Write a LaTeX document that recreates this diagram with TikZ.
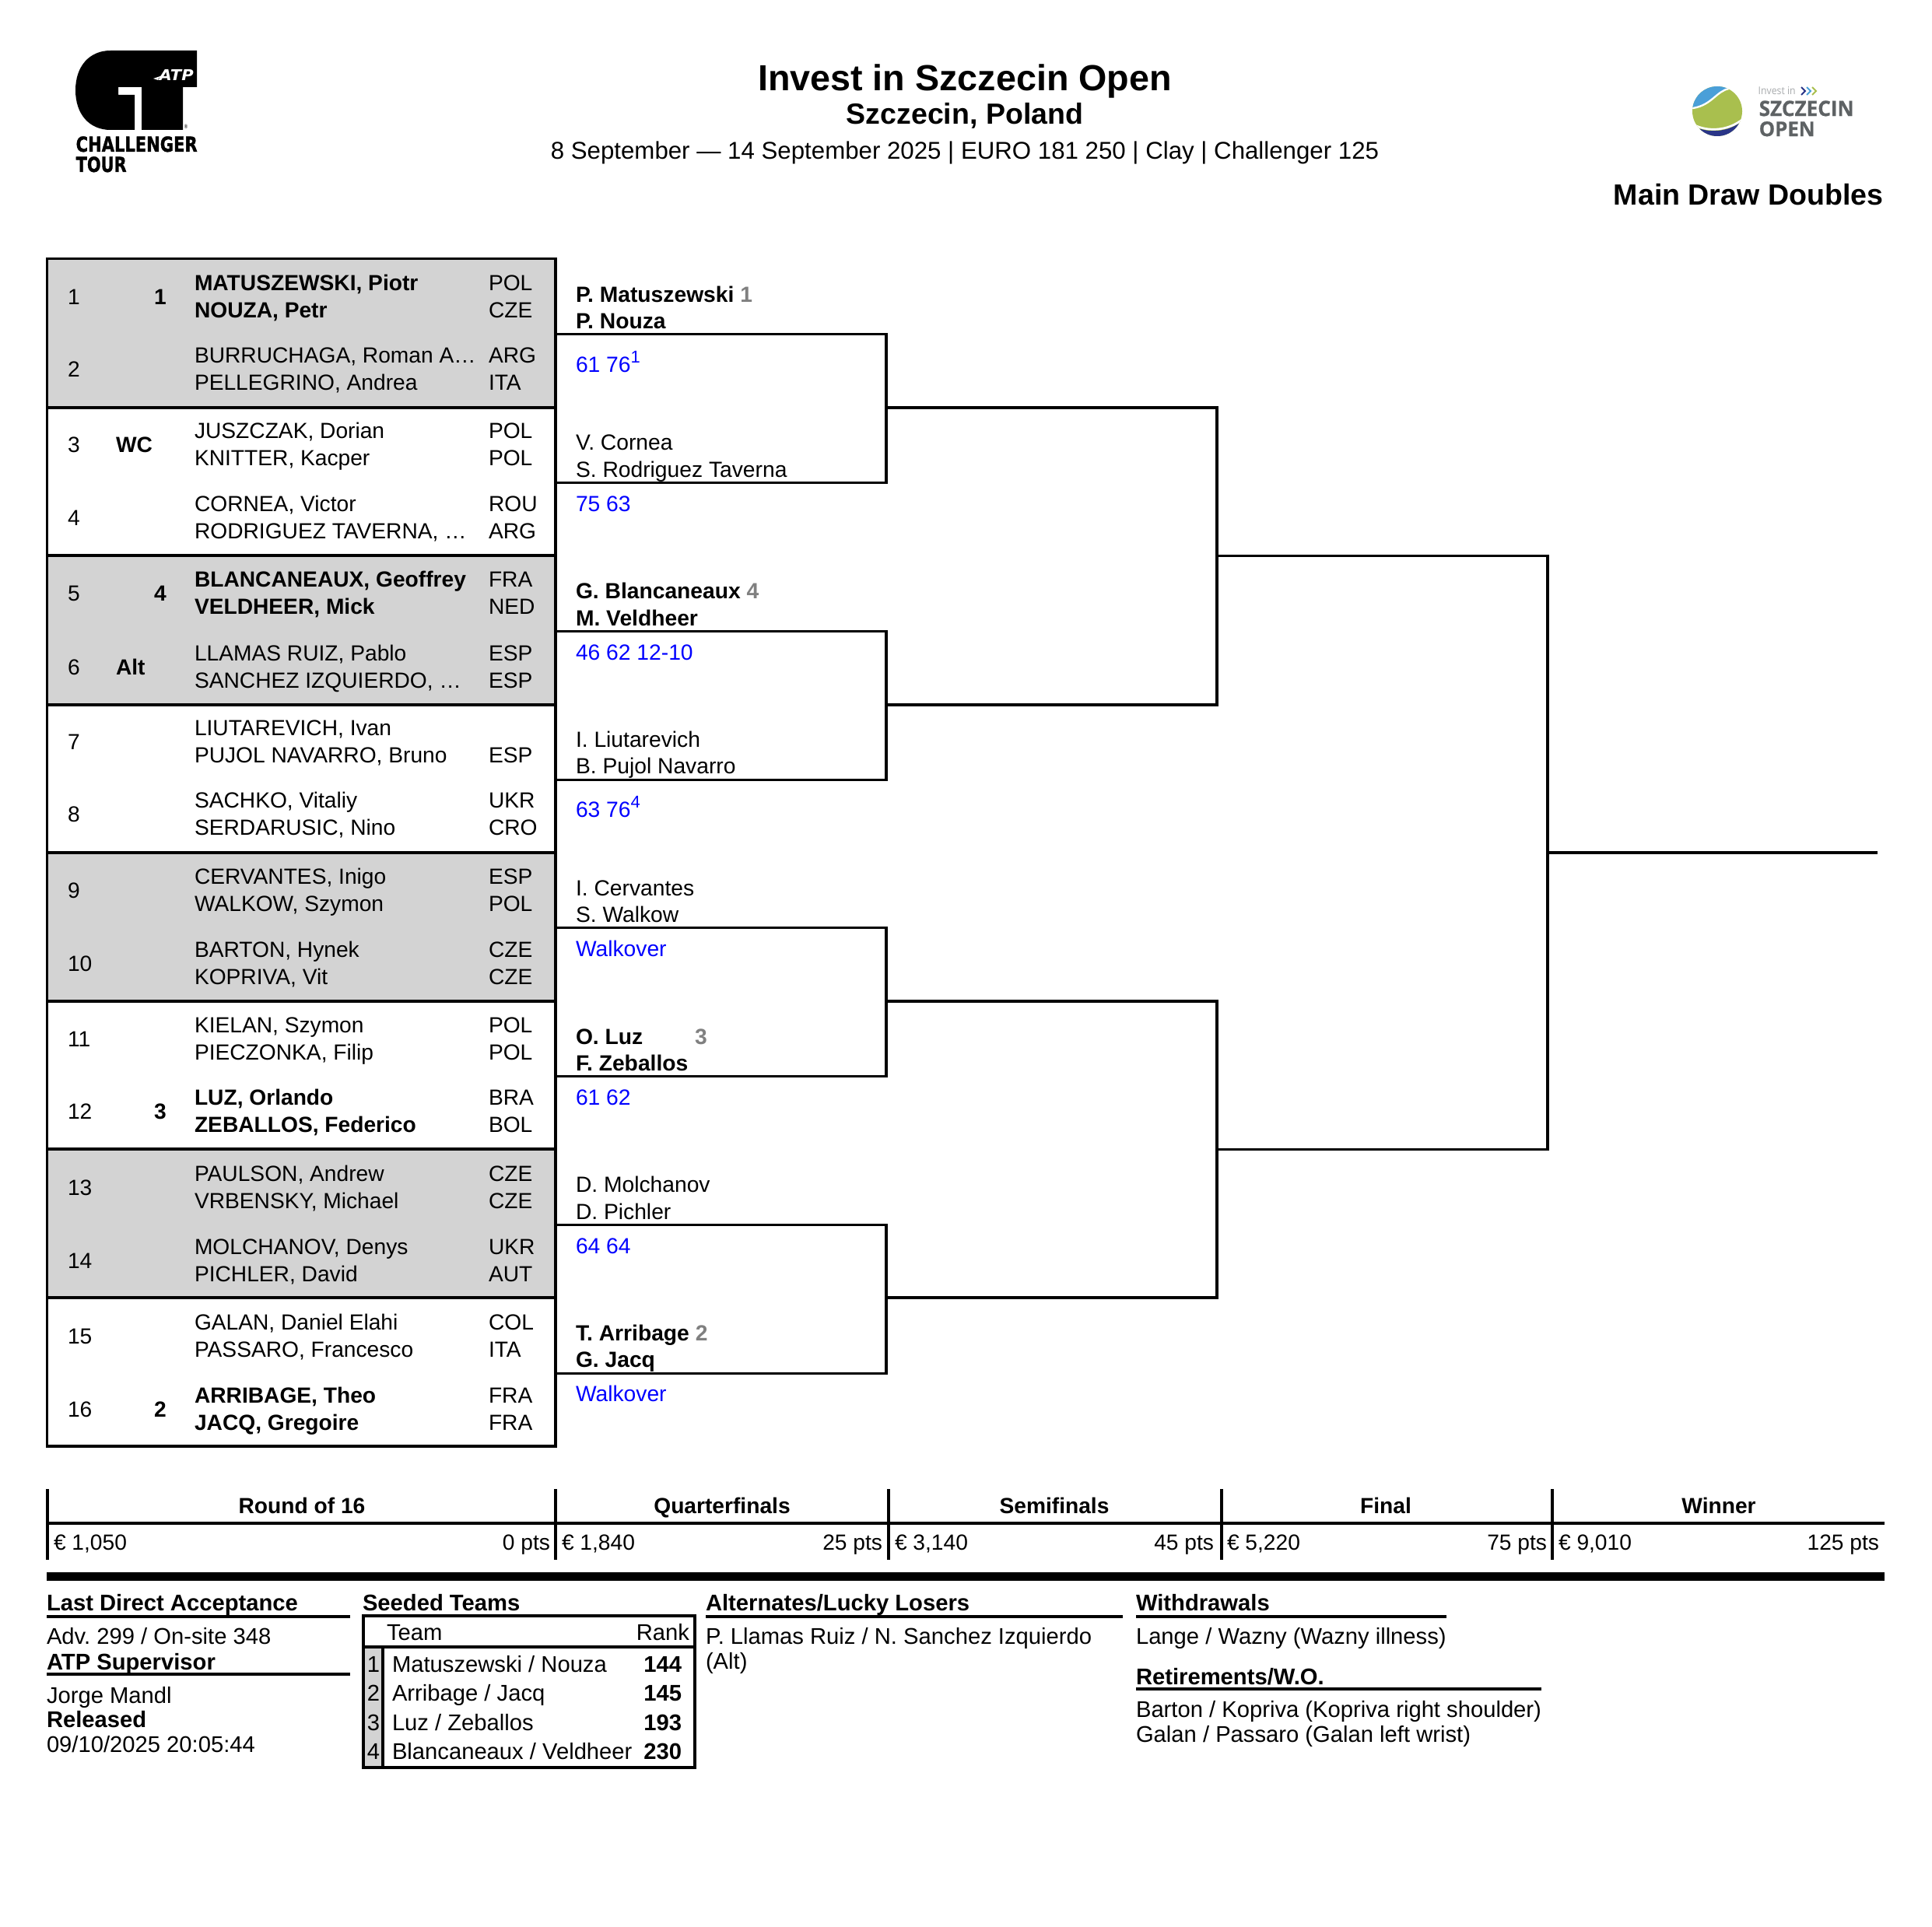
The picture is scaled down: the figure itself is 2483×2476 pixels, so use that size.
\documentclass[tikz,border=0pt]{standalone}
\usepackage{fontspec}
\usepackage{graphicx}
\setmainfont{Liberation Sans}
\newfontfamily\osans[BoldFeatures={FakeBold=0.6}]{Open Sans}
\newfontfamily\heavy[BoldFeatures={FakeBold=1.5}]{DejaVu Sans}
\definecolor{cellgrey}{HTML}{D3D3D3}
\definecolor{seedgrey}{HTML}{808080}
\definecolor{scoreblue}{HTML}{0000FF}
\definecolor{ballgreen}{HTML}{A9BF4E}
\definecolor{ballblue}{HTML}{4A9FD8}
\definecolor{ballnavy}{HTML}{2A3588}
\definecolor{logotext}{HTML}{5E6264}
\definecolor{logolight}{HTML}{A8ABAD}
\AtBeginDocument{\frenchspacing}
\newcommand{\bodysize}{\fontsize{8.45}{10}\selectfont}
\newcommand{\qfsize}{\fontsize{8.47}{10}\selectfont}
\newcommand{\footsize}{\fontsize{8.76}{10}\selectfont}
\tikzset{
  txt/.style={anchor=base west,inner sep=0pt,outer sep=0pt,font=\bodysize},
  txtb/.style={txt,font=\bodysize\bfseries},
  txtr/.style={anchor=base east,inner sep=0pt,outer sep=0pt,font=\bodysize},
  txtc/.style={anchor=base,inner sep=0pt,outer sep=0pt,font=\bodysize},
  txtcb/.style={txtc,font=\bodysize\bfseries},
  qtxt/.style={txt,font=\qfsize},
  qtxtb/.style={txt,font=\qfsize\bfseries},
  ftxt/.style={txt,font=\footsize},
  ftxtb/.style={txt,font=\footsize\bfseries},
  ftxtr/.style={txtr,font=\footsize},
  ftxtrb/.style={txtr,font=\footsize\bfseries},
  ftxtc/.style={txtc,font=\footsize},
  score/.style={qtxt,text=scoreblue},
  rule/.style={line width=0.93pt,black},
  frame/.style={line width=0.93pt,black},
  bracket/.style={line width=0.93pt,black},
}
\newcommand{\DrawRow}[8]{%
  \node[txt] (num#1) at (87,#2+10.5) {#1};
  \node[txtb] (tag#1) at (149,#2+10.5) {#3};
  \node[txtb,anchor=base] (seed#1) at (206,#2+10.5) {#4};
  \node[txt] (na#1) at (250,#2-8) {#5#6};
  \node[txt] (ca#1) at (628,#2-8) {#7};
  \node[txt] (nb#1) at (250,#2+27) {#5#8};
}
\newcommand{\CtryB}[2]{\node[txt] (cb#1) at (628,#1+27) {#2};}
\newcommand{\ScoreSup}[1]{\raisebox{3.6pt}{\fontsize{6.6}{8}\selectfont #1}}
\newcommand{\SeedMark}[1]{\textcolor{seedgrey}{\bfseries #1}}
\begin{document}
\begin{tikzpicture}[x=0.3pt,y=-0.3pt]
\useasboundingbox (0,0) rectangle (2483,2476);
\fill[white] (0,0) rectangle (2483,2476);

% ---- ATP Challenger logo
\fill[black] (253,65) -- (142,65) .. controls (115,65) and (97,85) .. (97,116)
  .. controls (97,147) and (115,167) .. (142,167) -- (173,167) -- (173,122) -- (152,122)
  -- (152,112) -- (182,112) -- (182,167) -- (235,167) -- (235,112) -- (253,112) -- cycle;
\node[anchor=south west,inner sep=0pt,text=white] (atp) at (204,104) {\resizebox{13.2pt}{4.2pt}{\heavy\bfseries\itshape ATP}};
\fill[white] (197,101) -- (209,97) -- (210,99) -- (204,100) -- (203,103) -- cycle;
\node[anchor=center,inner sep=0pt] (reg) at (239,163) {\resizebox{1.6pt}{1.6pt}{\heavy ®}};
\node[anchor=south west,inner sep=0pt] (chal) at (97,196) {\resizebox{46.8pt}{5.9pt}{\heavy\bfseries CHALLENGER}};
\node[anchor=south west,inner sep=0pt] (tour) at (97,222) {\resizebox{19.5pt}{5.9pt}{\heavy\bfseries TOUR}};

% ---- Szczecin logo
\begin{scope}
  \clip (2207,143) circle (32);
  \fill[ballgreen] (2170,105) rectangle (2245,185);
  \fill[ballblue] (2170,105) -- (2232,105) -- (2222,113) .. controls (2206,116) and (2200,134) .. (2176,138) -- (2170,138) -- cycle;
  \fill[ballnavy] (2178,163) .. controls (2195,171) and (2220,171) .. (2240,155) -- (2245,185) -- (2170,185) -- cycle;
  \draw[white,line width=0.7pt] (2170,139) -- (2176,139) .. controls (2200,135) and (2206,117) .. (2222,114) -- (2235,105);
  \draw[white,line width=0.8pt] (2178,161) .. controls (2195,169) and (2220,169) .. (2240,153);
\end{scope}
\node[anchor=south west,inner sep=0pt,text=logolight] (inv) at (2259,122) {\resizebox{14.4pt}{3pt}{\osans Invest in}};
\draw[ballnavy,line width=0.6pt] (2315,112) -- (2320,117) -- (2315,122);
\draw[ballblue,line width=0.6pt] (2322,112) -- (2327,117) -- (2322,122);
\draw[ballgreen,line width=0.6pt] (2329,112) -- (2334,117) -- (2329,122);
\node[anchor=south west,inner sep=0pt,text=logotext] (szc) at (2260,150) {\resizebox{36.6pt}{5.9pt}{\osans\bfseries SZCZECIN}};
\node[anchor=south west,inner sep=0pt,text=logotext] (opn) at (2260,176) {\resizebox{21.6pt}{5.7pt}{\osans\bfseries OPEN}};

% ---- Heading
\node[anchor=base,inner sep=0pt,font=\fontsize{14}{16}\selectfont\bfseries] (title) at (1240,117) {Invest in Szczecin Open};
\node[anchor=base,inner sep=0pt,font=\fontsize{11.25}{13}\selectfont\bfseries] (city) at (1240,160) {Szczecin, Poland};
\node[anchor=base,inner sep=0pt,font=\fontsize{9.37}{12}\selectfont] (dates) at (1240,205) {8 September — 14 September 2025 | EURO 181 250 | Clay | Challenger 125};
\node[anchor=base east,inner sep=0pt,font=\fontsize{11.27}{14}\selectfont\bfseries] (draw) at (2421,264) {Main Draw Doubles};

% ---- Draw table
\fill[cellgrey] (60,332) rectangle (714,524);
\fill[cellgrey] (60,714) rectangle (714,906);
\fill[cellgrey] (60,1096) rectangle (714,1287);
\fill[cellgrey] (60,1477) rectangle (714,1668);
\draw[frame] (60.5,332.5) rectangle (714,1859);
\draw[frame] (60,524) -- (714,524);
\draw[frame] (60,714) -- (714,714);
\draw[frame] (60,906) -- (714,906);
\draw[frame] (60,1096) -- (714,1096);
\draw[frame] (60,1287) -- (714,1287);
\draw[frame] (60,1477) -- (714,1477);
\draw[frame] (60,1668) -- (714,1668);

\DrawRow{1}{381}{}{1}{\bfseries}{MATUSZEWSKI, Piotr}{POL}{NOUZA, Petr}\CtryB{381}{CZE}
\DrawRow{2}{474}{}{}{}{BURRUCHAGA, Roman A…}{ARG}{PELLEGRINO, Andrea}\CtryB{474}{ITA}
\DrawRow{3}{571}{WC}{}{}{JUSZCZAK, Dorian}{POL}{KNITTER, Kacper}\CtryB{571}{POL}
\DrawRow{4}{665}{}{}{}{CORNEA, Victor}{ROU}{RODRIGUEZ TAVERNA, …}\CtryB{665}{ARG}
\DrawRow{5}{762}{}{4}{\bfseries}{BLANCANEAUX, Geoffrey}{FRA}{VELDHEER, Mick}\CtryB{762}{NED}
\DrawRow{6}{857}{Alt}{}{}{LLAMAS RUIZ, Pablo}{ESP}{SANCHEZ IZQUIERDO, …}\CtryB{857}{ESP}
\DrawRow{7}{953}{}{}{}{LIUTAREVICH, Ivan}{}{PUJOL NAVARRO, Bruno}\CtryB{953}{ESP}
\DrawRow{8}{1046}{}{}{}{SACHKO, Vitaliy}{UKR}{SERDARUSIC, Nino}\CtryB{1046}{CRO}
\DrawRow{9}{1144}{}{}{}{CERVANTES, Inigo}{ESP}{WALKOW, Szymon}\CtryB{1144}{POL}
\DrawRow{10}{1238}{}{}{}{BARTON, Hynek}{CZE}{KOPRIVA, Vit}\CtryB{1238}{CZE}
\DrawRow{11}{1335}{}{}{}{KIELAN, Szymon}{POL}{PIECZONKA, Filip}\CtryB{1335}{POL}
\DrawRow{12}{1428}{}{3}{\bfseries}{LUZ, Orlando}{BRA}{ZEBALLOS, Federico}\CtryB{1428}{BOL}
\DrawRow{13}{1526}{}{}{}{PAULSON, Andrew}{CZE}{VRBENSKY, Michael}\CtryB{1526}{CZE}
\DrawRow{14}{1620}{}{}{}{MOLCHANOV, Denys}{UKR}{PICHLER, David}\CtryB{1620}{AUT}
\DrawRow{15}{1717}{}{}{}{GALAN, Daniel Elahi}{COL}{PASSARO, Francesco}\CtryB{1717}{ITA}
\DrawRow{16}{1811}{}{2}{\bfseries}{ARRIBAGE, Theo}{FRA}{JACQ, Gregoire}\CtryB{1811}{FRA}

% ---- Quarterfinal names and scores
\node[qtxtb] (q1a) at (740,388.5) {P. Matuszewski \SeedMark{1}};
\node[qtxtb] (q1b) at (740,422.5) {P. Nouza};
\node[score] (q1s) at (740,478.5) {61 76\ScoreSup{1}};
\node[qtxt] (q2a) at (740,578.5) {V. Cornea};
\node[qtxt] (q2b) at (740,613.5) {S. Rodriguez Taverna};
\node[score] (q2s) at (740,657.5) {75 63};
\node[qtxtb] (q3a) at (740,769.5) {G. Blancaneaux \SeedMark{4}};
\node[qtxtb] (q3b) at (740,804.5) {M. Veldheer};
\node[score] (q3s) at (740,848.5) {46 62 12-10};
\node[qtxt] (q4a) at (740,960.5) {I. Liutarevich};
\node[qtxt] (q4b) at (740,994.5) {B. Pujol Navarro};
\node[score] (q4s) at (740,1050.5) {63 76\ScoreSup{4}};
\node[qtxt] (q5a) at (740,1151.5) {I. Cervantes};
\node[qtxt] (q5b) at (740,1185.5) {S. Walkow};
\node[score] (q5s) at (740,1229.5) {Walkover};
\node[qtxtb] (q6a) at (740,1342.5) {O. Luz};
\node[qtxtb,text=seedgrey] (q6seed) at (893,1342.5) {3};
\node[qtxtb] (q6b) at (740,1376.5) {F. Zeballos};
\node[score] (q6s) at (740,1420.5) {61 62};
\node[qtxt] (q7a) at (740,1532.5) {D. Molchanov};
\node[qtxt] (q7b) at (740,1567.5) {D. Pichler};
\node[score] (q7s) at (740,1611.5) {64 64};
\node[qtxtb] (q8a) at (740,1723.5) {T. Arribage \SeedMark{2}};
\node[qtxtb] (q8b) at (740,1757.5) {G. Jacq};
\node[score] (q8s) at (740,1801.5) {Walkover};

% ---- Bracket
\coordinate (a1) at (715,429.5); \coordinate (a2) at (715,620.5);
\coordinate (a3) at (715,811.5); \coordinate (a4) at (715,1002.5);
\coordinate (a5) at (715,1192.5); \coordinate (a6) at (715,1383.5);
\coordinate (a7) at (715,1574.5); \coordinate (a8) at (715,1765.5);
\coordinate (b1) at (1139,429.5); \coordinate (b2) at (1139,620.5);
\coordinate (b3) at (1139,811.5); \coordinate (b4) at (1139,1002.5);
\coordinate (b5) at (1139,1192.5); \coordinate (b6) at (1139,1383.5);
\coordinate (b7) at (1139,1574.5); \coordinate (b8) at (1139,1765.5);
\coordinate (c1) at (1139,524); \coordinate (c2) at (1139,906);
\coordinate (c3) at (1139,1287); \coordinate (c4) at (1139,1668);
\coordinate (d1) at (1564,524); \coordinate (d2) at (1564,906);
\coordinate (d3) at (1564,1287); \coordinate (d4) at (1564,1668);
\coordinate (e1) at (1564,714.5); \coordinate (e2) at (1564,1477.5);
\coordinate (f1) at (1989,714.5); \coordinate (f2) at (1989,1477.5);
\coordinate (g) at (1989,1096); \coordinate (w) at (2413,1096);
\draw[bracket] (a1) -- (b1) -- (b2) -- (a2);
\draw[bracket] (a3) -- (b3) -- (b4) -- (a4);
\draw[bracket] (a5) -- (b5) -- (b6) -- (a6);
\draw[bracket] (a7) -- (b7) -- (b8) -- (a8);
\draw[bracket] (c1) -- (d1) -- (d2) -- (c2);
\draw[bracket] (c3) -- (d3) -- (d4) -- (c4);
\draw[bracket] (e1) -- (f1) -- (f2) -- (e2);
\draw[bracket] (g) -- (w);

% ---- Prize table
\draw[rule] (61,1914) -- (61,2005);
\draw[rule] (714,1914) -- (714,2005);
\draw[rule] (1142,1914) -- (1142,2005);
\draw[rule] (1570,1914) -- (1570,2005);
\draw[rule] (1995,1914) -- (1995,2005);
\draw[rule] (60,1958) -- (2422,1958);
\fill[black] (60,2021) rectangle (2422,2032);
\node[txtcb] (r16) at (388,1945) {Round of 16};
\node[txtcb] (rqf) at (928,1945) {Quarterfinals};
\node[txtcb] (rsf) at (1355,1945) {Semifinals};
\node[txtcb] (rfi) at (1781,1945) {Final};
\node[txtcb] (rwi) at (2209,1945) {Winner};
\node[txt] (m1) at (69,1992) {€ 1,050};
\node[txtr] (p1) at (707,1992) {0 pts};
\node[txt] (m2) at (722,1992) {€ 1,840};
\node[txtr] (p2) at (1134,1992) {25 pts};
\node[txt] (m3) at (1150,1992) {€ 3,140};
\node[txtr] (p3) at (1560,1992) {45 pts};
\node[txt] (m4) at (1577,1992) {€ 5,220};
\node[txtr] (p4) at (1988,1992) {75 pts};
\node[txt] (m5) at (2003,1992) {€ 9,010};
\node[txtr] (p5) at (2415,1992) {125 pts};

% ---- Bottom sections
\node[ftxtb] (h1) at (60,2070) {Last Direct Acceptance};
\draw[rule] (60,2078) -- (450,2078);
\node[ftxt] (h1t) at (60,2113) {Adv. 299 / On-site 348};
\node[ftxtb] (h2) at (60,2146) {ATP Supervisor};
\draw[rule] (60,2152) -- (450,2152);
\node[ftxt] (h2t) at (60,2189) {Jorge Mandl};
\node[ftxtb] (h3) at (60,2220) {Released};
\node[ftxt] (h3t) at (60,2252) {09/10/2025 20:05:44};

\node[ftxtb] (h4) at (466,2070) {Seeded Teams};
\fill[cellgrey] (467,2117) rectangle (492,2272);
\draw[frame] (467,2077) rectangle (893,2272);
\draw[frame] (467,2117) -- (893,2117);
\draw[frame] (492,2117) -- (492,2272);
\node[ftxt] (st) at (497,2108) {Team};
\node[ftxtr] (sr) at (886,2108) {Rank};
\node[ftxtc] (s1n) at (480,2149) {1};
\node[ftxt] (s1t) at (504,2149) {Matuszewski / Nouza};
\node[ftxtrb] (s1r) at (876,2149) {144};
\node[ftxtc] (s2n) at (480,2186) {2};
\node[ftxt] (s2t) at (504,2186) {Arribage / Jacq};
\node[ftxtrb] (s2r) at (876,2186) {145};
\node[ftxtc] (s3n) at (480,2224) {3};
\node[ftxt] (s3t) at (504,2224) {Luz / Zeballos};
\node[ftxtrb] (s3r) at (876,2224) {193};
\node[ftxtc] (s4n) at (480,2261) {4};
\node[ftxt] (s4t) at (504,2261) {Blancaneaux / Veldheer};
\node[ftxtrb] (s4r) at (876,2261) {230};

\node[ftxtb] (h5) at (907,2070) {Alternates/Lucky Losers};
\draw[rule] (907,2078) -- (1443,2078);
\node[ftxt] (h5a) at (907,2113) {P. Llamas Ruiz / N. Sanchez Izquierdo};
\node[ftxt] (h5b) at (907,2145) {(Alt)};

\node[ftxtb] (h6) at (1460,2070) {Withdrawals};
\draw[rule] (1460,2078) -- (1859,2078);
\node[ftxt] (h6a) at (1460,2113) {Lange / Wazny (Wazny illness)};
\node[ftxtb] (h7) at (1460,2165) {Retirements/W.O.};
\draw[rule] (1460,2171) -- (1981,2171);
\node[ftxt] (h7a) at (1460,2207) {Barton / Kopriva (Kopriva right shoulder)};
\node[ftxt] (h7b) at (1460,2239) {Galan / Passaro (Galan left wrist)};
\end{tikzpicture}
\end{document}
